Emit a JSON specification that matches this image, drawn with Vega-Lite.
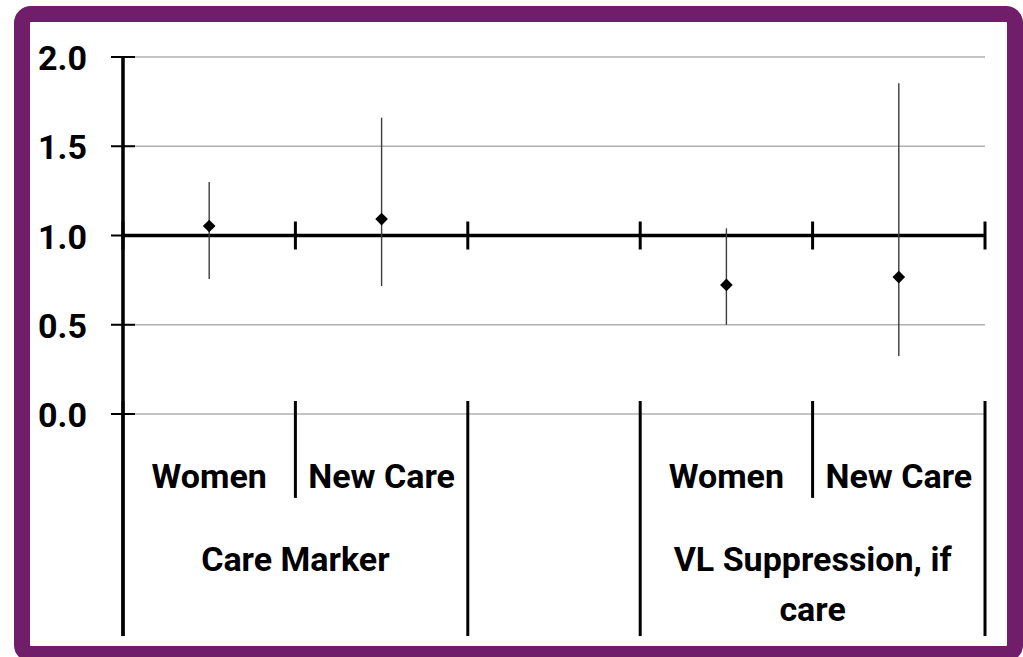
{
  "$schema": "https://vega.github.io/schema/vega-lite/v6.json",
  "width": 993,
  "height": 640,
  "autosize": {"type": "none"},
  "padding": {"left": 22, "top": 14, "right": 8, "bottom": 3},
  "background": "white",
  "config": {
    "view": {"fill": "white", "stroke": "#701d6a", "strokeWidth": 16, "cornerRadius": 9},
    "font": "Roboto"
  },
  "datasets": {
    "estimates": [
      {"group": "Care Marker", "category": "Women", "slot": 1, "estimate": 1.053, "lower": 0.756, "upper": 1.30},
      {"group": "Care Marker", "category": "New Care", "slot": 2, "estimate": 1.092, "lower": 0.717, "upper": 1.66},
      {"group": "VL Suppression, if care", "category": "Women", "slot": 4, "estimate": 0.723, "lower": 0.50, "upper": 1.04},
      {"group": "VL Suppression, if care", "category": "New Care", "slot": 5, "estimate": 0.767, "lower": 0.325, "upper": 1.853}
    ],
    "yticks": [{"v": 0}, {"v": 0.5}, {"v": 1.0}, {"v": 1.5}, {"v": 2.0}],
    "boundaries": [
      {"b": 0.5, "level": "group"},
      {"b": 1.5, "level": "category"},
      {"b": 2.5, "level": "group"},
      {"b": 3.5, "level": "group"},
      {"b": 4.5, "level": "category"},
      {"b": 5.5, "level": "group"}
    ],
    "groups": [
      {"center": 1.5, "label": ["Care Marker"]},
      {"center": 4.5, "label": ["VL Suppression, if", "care"]}
    ]
  },
  "layer": [
    {
      "data": {"name": "yticks"},
      "mark": {"type": "rule", "color": "#b0b0b0", "strokeWidth": 1.6},
      "encoding": {
        "x": {"datum": 0.5, "type": "quantitative", "scale": {"domain": [-0.0858, 5.674], "nice": false, "zero": false}, "axis": null},
        "x2": {"datum": 5.5},
        "y": {"field": "v", "type": "quantitative", "scale": {"domain": [-1.3445, 2.2409], "nice": false, "zero": false}, "axis": null}
      }
    },
    {
      "data": {"name": "yticks"},
      "mark": {"type": "text", "align": "right", "baseline": "middle", "dy": 3, "fontSize": 34, "fontWeight": "bold", "color": "black"},
      "encoding": {
        "x": {"datum": 0.291, "type": "quantitative"},
        "y": {"field": "v", "type": "quantitative", "axis": null},
        "text": {"field": "v", "type": "quantitative", "format": ".1f"}
      }
    },
    {
      "data": {"name": "yticks"},
      "mark": {"type": "tick", "orient": "horizontal", "color": "black", "opacity": 1, "size": 24, "thickness": 2},
      "encoding": {
        "x": {"datum": 0.5, "type": "quantitative"},
        "y": {"field": "v", "type": "quantitative", "axis": null}
      }
    },
    {
      "data": {"name": "yticks"},
      "mark": {"type": "rule", "color": "black", "strokeWidth": 2.5},
      "encoding": {
        "x": {"datum": 0.5, "type": "quantitative"},
        "y": {"datum": 2.0, "type": "quantitative", "axis": null},
        "y2": {"datum": -1.244}
      }
    },
    {
      "data": {"name": "yticks"},
      "transform": [{"filter": "datum.v == 1"}],
      "mark": {"type": "rule", "color": "black", "strokeWidth": 3.5},
      "encoding": {
        "x": {"datum": 0.5, "type": "quantitative"},
        "x2": {"datum": 5.5},
        "y": {"field": "v", "type": "quantitative", "axis": null}
      }
    },
    {
      "data": {"name": "boundaries"},
      "mark": {"type": "tick", "orient": "vertical", "color": "black", "opacity": 1, "size": 28, "thickness": 3},
      "encoding": {
        "x": {"field": "b", "type": "quantitative"},
        "y": {"datum": 1.0, "type": "quantitative", "axis": null}
      }
    },
    {
      "data": {"name": "boundaries"},
      "transform": [{"filter": "datum.level == 'category'"}],
      "mark": {"type": "rule", "color": "black", "strokeWidth": 3},
      "encoding": {
        "x": {"field": "b", "type": "quantitative"},
        "y": {"datum": 0.073, "type": "quantitative", "axis": null},
        "y2": {"datum": -0.47}
      }
    },
    {
      "data": {"name": "boundaries"},
      "transform": [{"filter": "datum.level == 'group'"}],
      "mark": {"type": "rule", "color": "black", "strokeWidth": 3},
      "encoding": {
        "x": {"field": "b", "type": "quantitative"},
        "y": {"datum": 0.073, "type": "quantitative", "axis": null},
        "y2": {"datum": -1.244}
      }
    },
    {
      "data": {"name": "estimates"},
      "mark": {"type": "rule", "color": "#3c3c3c", "strokeWidth": 1.4},
      "encoding": {
        "x": {"field": "slot", "type": "quantitative"},
        "y": {"field": "lower", "type": "quantitative", "axis": null},
        "y2": {"field": "upper"}
      }
    },
    {
      "data": {"name": "estimates"},
      "mark": {"type": "point", "shape": "diamond", "filled": true, "color": "black", "size": 160, "opacity": 1},
      "encoding": {
        "x": {"field": "slot", "type": "quantitative"},
        "y": {"field": "estimate", "type": "quantitative", "axis": null}
      }
    },
    {
      "data": {"name": "estimates"},
      "mark": {"type": "text", "align": "center", "baseline": "alphabetic", "fontSize": 34, "fontWeight": "bold", "color": "black"},
      "encoding": {
        "x": {"field": "slot", "type": "quantitative"},
        "y": {"datum": -0.4146, "type": "quantitative", "axis": null},
        "text": {"field": "category"}
      }
    },
    {
      "data": {"name": "groups"},
      "mark": {"type": "text", "align": "center", "baseline": "alphabetic", "fontSize": 34, "fontWeight": "bold", "color": "black", "lineHeight": 50},
      "encoding": {
        "x": {"field": "center", "type": "quantitative"},
        "y": {"datum": -0.8796, "type": "quantitative", "axis": null},
        "text": {"field": "label"}
      }
    }
  ]
}
